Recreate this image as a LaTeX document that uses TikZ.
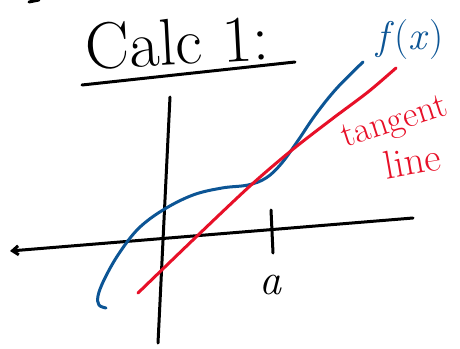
\documentclass[tikz,border=0pt]{standalone}
\usepackage{fontspec}
\usetikzlibrary{arrows.meta}
\definecolor{curveblue}{rgb}{0.047,0.333,0.584}
\definecolor{tanred}{rgb}{0.906,0.063,0.157}

\begin{document}
\begin{tikzpicture}[
    x=1pt, y=-1pt,
    ink/.style={line width=3pt, line cap=round, line join=round},
    axis/.style={ink, black},
    fcurve/.style={ink, curveblue},
    tline/.style={ink, tanred},
    lbl/.style={inner sep=0pt},
]

\useasboundingbox (0,0) rectangle (460,348);

%% ===================== TITLE =====================
\node[lbl, font=\fontsize{66}{66}\selectfont, rotate=3] (title) at (177,42) {Calc 1:};
\coordinate (ulA) at (82,85);
\coordinate (ulB) at (295,62);
\draw[axis] (ulA) -- (ulB);

% stray pen mark, top left
\coordinate (mkA) at (29,2);
\coordinate (mkB) at (39,0);
\draw[axis] (mkA) -- (mkB);

%% ===================== AXES =====================
\coordinate (xR) at (413,218);
\coordinate (xL) at (10,251);
\coordinate (yT) at (170,97);
\coordinate (yB) at (158,343);
\draw[axis, -{Straight Barb[length=6pt,width=9pt]}] (xR) -- (xL);
\draw[axis] (yT) -- (yB);

% tick at a
\coordinate (tkT) at (271,210);
\coordinate (tkB) at (273,253);
\draw[axis] (tkT) -- (tkB);
\node[lbl, font=\fontsize{44}{44}\selectfont\itshape] (a) at (270,285) {a};

%% ===================== CURVES =====================
% f(x)
\draw[fcurve] plot[smooth, tension=0.6] coordinates {
  (106,308) (99,305) (98,296) (104,280) (118,255) (138,229) (163,210)
  (193,195) (222,188) (248,185) (266,178) (281,164) (297,142)
  (316,114) (337,88) (363,62)};

% tangent line at a
\draw[tline] plot[smooth, tension=0.5] coordinates {
  (138,293) (195,238) (250,186) (292,150) (332,119) (368,92) (396,68)};

%% ===================== LABELS =====================
\node[lbl, text=curveblue, font=\fontsize{40}{40}\selectfont] (flab) at (410,40) {\textit{f}(\textit{x})};
\node[lbl, text=tanred, font=\fontsize{36}{36}\selectfont, rotate=18] (tlab) at (395,124) {tangent};
\node[lbl, text=tanred, font=\fontsize{40}{40}\selectfont, rotate=10] (llab) at (412,161) {line};

\end{tikzpicture}
\end{document}
